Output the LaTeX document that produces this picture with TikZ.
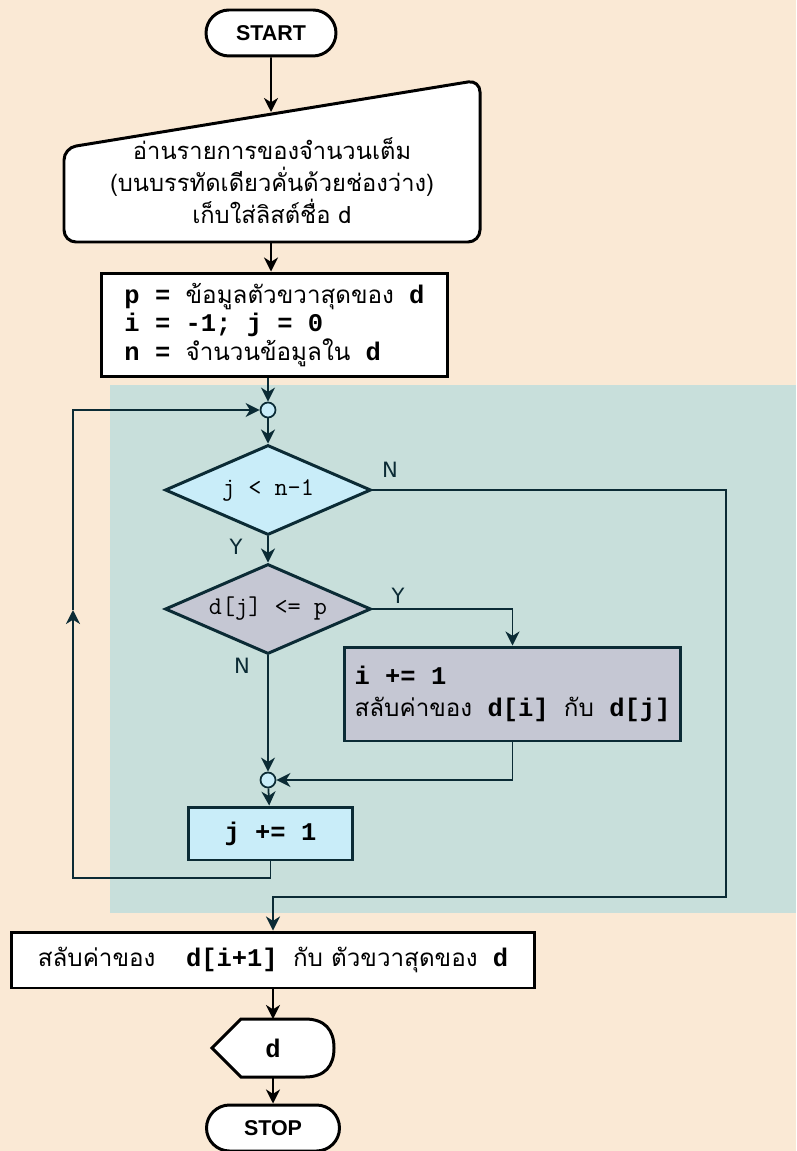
\documentclass[tikz,border=0pt]{standalone}
\usepackage{fontspec}
\setmainfont{Liberation Sans}
\newfontfamily\thai[Script=Thai,Scale=0.95]{Loma}
\newfontfamily\code{Liberation Mono}
\newfontfamily\lbl{DejaVu Sans}
\usetikzlibrary{arrows.meta,shapes.misc,shapes.geometric}

\definecolor{paper}{HTML}{FAE9D5}
\definecolor{loopbg}{HTML}{C8DFDB}
\definecolor{sky}{HTML}{C9EDF9}
\definecolor{lilac}{HTML}{C5C7D3}
\definecolor{ink}{HTML}{0B2B35}

% mixed Thai / code text
\newcommand{\cdb}[1]{{\code\bfseries #1}}
\newcommand{\thx}[1]{{\thai #1}}

\tikzset{
  outline/.style={line width=1.7pt},
  term/.style={draw, outline, rounded rectangle, fill=white, minimum width=2.6cm,
    minimum height=0.92cm, inner sep=0pt, font=\fontsize{12.2}{14}\selectfont\bfseries},
  proc/.style={draw, outline, rectangle, inner sep=0pt},
  decision/.style={draw=ink, outline, diamond, aspect=2.29, minimum width=4.12cm,
    minimum height=1.8cm, inner sep=0pt, font=\ttfamily\fontsize{14.5}{16}\selectfont},
  junction/.style={draw=ink, line width=1pt, circle, fill=sky, minimum size=0.3cm, inner sep=0pt},
  flow/.style={->, line width=1pt},
  tag/.style={font=\lbl\fontsize{12}{14}\selectfont, text=ink},
}

\begin{document}
\begin{tikzpicture}[x=0.02cm, y=-0.02cm, >={Stealth[length=8pt,width=8pt,inset=2.5pt]}]
\useasboundingbox (0,0) rectangle (796,1151);
% Background and loop area
\fill[paper] (0,0) rectangle (796,1151);
\fill[loopbg] (110,385) rectangle (796,913);

% Start and input
\node[term] (start) at (271,33) {START};
\draw[outline, fill=white, rounded corners=0.24cm] (64,148) -- (480,80) -- (480,242) -- (64,242) -- cycle;
\node[align=center, font=\thai\fontsize{14.2}{18.2}\selectfont] (inp) at (272,181)
  {อ่านรายการของจำนวนเต็ม\\(บนบรรทัดเดียวคั่นด้วยช่องว่าง)\\เก็บใส่ลิสต์ชื่อ d};
\coordinate (inptop) at (271,112);
\coordinate (inpbot) at (271,242);

% Initial values
\node[proc, fill=white, minimum width=6.94cm, minimum height=2.08cm,
  align=left, font=\fontsize{14.5}{16.4}\selectfont] (init) at (274.5,325)
  {\cdb{p = }\thx{ข้อมูลตัวขวาสุดของ}\cdb{ d}\\
   \cdb{i = -1; j = 0}\\
   \cdb{n = }\thx{จำนวนข้อมูลใน}\cdb{ d}};

% Loop
\node[junction] (c1) at (268,410) {};
\node[decision, fill=sky] (d1) at (268,490) {j < n-1};
\node[decision, fill=lilac] (d2) at (268,609) {d[j] <= p};
\node[proc, draw=ink, fill=lilac, minimum width=6.74cm, minimum height=1.88cm,
  align=left, font=\fontsize{14.5}{18.1}\selectfont] (swapin) at (512.5,694)
  {\cdb{i += 1}\\ \thx{สลับค่าของ}\cdb{ d[i] }\thx{กับ}\cdb{ d[j]}};
\node[junction] (c2) at (268,780) {};
\node[proc, draw=ink, fill=sky, minimum width=3.3cm, minimum height=1.06cm,
  font=\code\bfseries\fontsize{14.5}{16}\selectfont] (jinc) at (270.5,833.5) {j += 1};

% After the loop
\node[proc, fill=white, minimum width=10.48cm, minimum height=1.12cm,
  font=\fontsize{14.5}{16}\selectfont] (swap) at (273,960)
  {\thx{สลับค่าของ}\cdb{\ \ d[i+1] }\thx{กับ ตัวขวาสุดของ}\cdb{ d}};
\draw[outline, fill=white] (212,1048) -- (241,1019) -- (305,1019)
  .. controls (325,1019) and (334,1030) .. (334,1048)
  .. controls (334,1066) and (325,1077) .. (305,1077) -- (241,1077) -- cycle;
\node[font=\code\bfseries\fontsize{14.5}{16}\selectfont] (out) at (273,1048) {d};
\coordinate (outtop) at (273,1019);
\coordinate (outbot) at (273,1077);
\node[term, minimum width=2.66cm] (stop) at (273,1128) {STOP};

% Connectors
\draw[flow] (start) -- (inptop);
\draw[flow] (inpbot) -- (inpbot |- init.north);
\draw[flow, ink] (c1 |- init.south) -- (c1);
\draw[flow, ink] (c1) -- (d1);
\draw[flow, ink] (d1) -- (d2);
\node[tag] (yes1) at (236,547) {Y};
\draw[flow, ink] (d2.east) -| (swapin.north);
\node[tag] (yes2) at (398,596) {Y};
\draw[flow, ink] (d2) -- (c2);
\node[tag] (no2) at (242,666) {N};
\draw[flow, ink] (swapin.south) |- (c2);
\draw[flow, ink] (c2) -- (jinc);
\coordinate (lb) at (73,878);
\coordinate (lm) at (73,610);
\draw[flow, ink] (jinc.south) |- (lb) -- (lm);
\draw[flow, ink] (lm) |- (c1);
\coordinate (nr) at (726,897);
\draw[flow, ink] (d1.east) -| (nr) -| (swap.north);
\node[tag] (no1) at (390,470) {N};
\draw[flow] (swap) -- (outtop);
\draw[flow] (outbot) -- (stop);
\end{tikzpicture}
\end{document}
